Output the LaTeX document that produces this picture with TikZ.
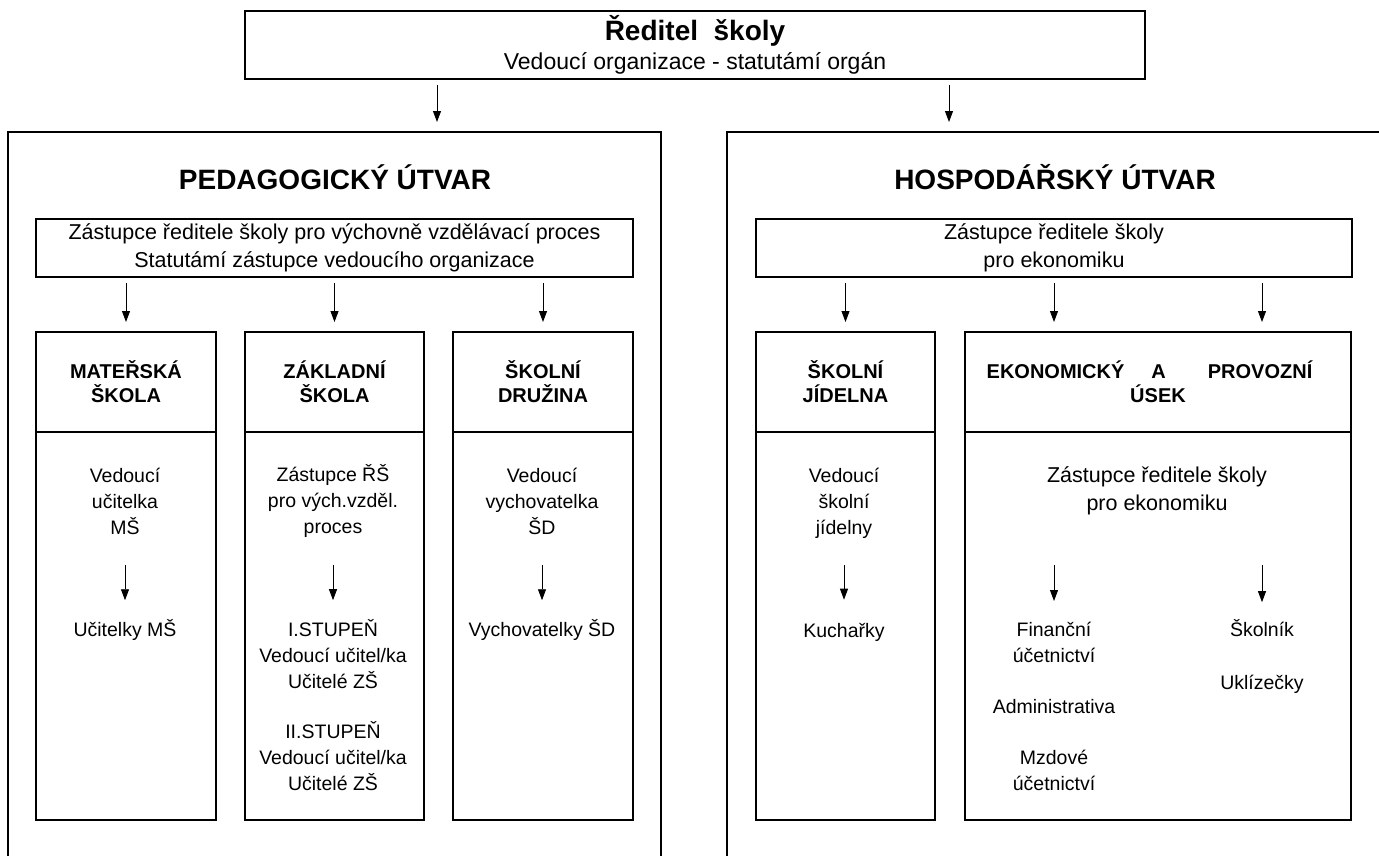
\documentclass[tikz,border=0pt]{standalone}
\usepackage{fontspec}
\setmainfont{Liberation Sans}
\usetikzlibrary{arrows.meta}

\begin{document}
\begin{tikzpicture}[x=1pt, y=-1pt,
    box/.style={draw, line width=1.7pt, inner sep=0pt, outer sep=0pt},
    arr/.style={-{Triangle[length=11pt, width=8pt]}, line width=0.9pt},
    boxarr/.style={arr, shorten <=6pt, shorten >=10pt},
    title/.style={font=\fontsize{28}{34}\selectfont\bfseries, inner sep=0pt},
    deputy/.style={font=\fontsize{21.5}{28}\selectfont, align=center, inner sep=0pt},
    sub/.style={font=\fontsize{20}{24}\selectfont\bfseries, align=center},
    txt/.style={font=\fontsize{19.5}{26}\selectfont, align=center, inner sep=0pt}]
    \clip (0,0) rectangle (1379,855);

    % Director
    \node[box, minimum width=900pt, minimum height=68pt] (dir) at (695,45) {};
    \node[title] (dirname) at (695,31) {Ředitel\ \ školy};
    \node[font=\fontsize{23}{28}\selectfont, inner sep=0pt] (dirrole) at (695,63) {Vedoucí organizace - statutámí orgán};

    % Pedagogical unit
    \node[box, anchor=north west, minimum width=653pt, minimum height=800pt] (ped) at (8,132) {};
    \node[title] (pedname) at (335,177) {PEDAGOGICKÝ ÚTVAR};
    \node[box, deputy, minimum width=597pt, minimum height=58pt] (peddep) at (334.5,248) {Zástupce ředitele školy pro výchovně vzdělávací proces\\Statutámí zástupce vedoucího organizace};

    % Economic unit
    \node[box, anchor=north west, minimum width=800pt, minimum height=800pt] (hosp) at (727,132) {};
    \node[title] (hospname) at (1055,177) {HOSPODÁŘSKÝ ÚTVAR};
    \node[box, deputy, minimum width=596pt, minimum height=58pt] (hospdep) at (1054,248) {Zástupce ředitele školy\\pro ekonomiku};

    \coordinate (a1) at (437,0);
    \coordinate (a2) at (949,0);
    \draw[boxarr] (dir.south -| a1) -- (ped.north -| a1);
    \draw[boxarr] (dir.south -| a2) -- (hosp.north -| a2);

    % Sections
    \node[box, sub, minimum width=180pt, minimum height=100pt] (ms) at (126,382) {MATEŘSKÁ\\ŠKOLA};
    \node[box, anchor=north, minimum width=180pt, minimum height=388pt] (msbody) at (ms.south) {};
    \node[box, sub, minimum width=179pt, minimum height=100pt] (zs) at (334.5,382) {ZÁKLADNÍ\\ŠKOLA};
    \node[box, anchor=north, minimum width=179pt, minimum height=388pt] (zsbody) at (zs.south) {};
    \node[box, sub, minimum width=180pt, minimum height=100pt] (sd) at (543,382) {ŠKOLNÍ\\DRUŽINA};
    \node[box, anchor=north, minimum width=180pt, minimum height=388pt] (sdbody) at (sd.south) {};
    \node[box, sub, minimum width=179pt, minimum height=100pt] (sj) at (845.5,382) {ŠKOLNÍ\\JÍDELNA};
    \node[box, anchor=north, minimum width=179pt, minimum height=388pt] (sjbody) at (sj.south) {};
    \node[box, sub, minimum width=386pt, minimum height=100pt] (ek) at (1158,382) {EKONOMICKÝ\hspace{27pt}A\hspace{42pt}PROVOZNÍ\hspace*{17pt}\\ÚSEK};
    \node[box, anchor=north, minimum width=386pt, minimum height=388pt] (ekbody) at (ek.south) {};

    % Materska skola
    \node[txt] (msboss) at (125,501) {Vedoucí\\učitelka\\MŠ};
    \node[txt] (msstaff) at (125,630) {Učitelky MŠ};
    \draw[arr, shorten <=31pt, shorten >=19pt] (msboss) -- (msstaff);

    % Zakladni skola
    \node[txt] (zsboss) at (333,501) {Zástupce ŘŠ\\pro vých.vzděl.\\proces};
    \node[txt] (zsone) at (333,654) {I.STUPEŇ\\Vedoucí učitel/ka\\Učitelé ZŠ};
    \node[txt] (zstwo) at (333,756) {II.STUPEŇ\\Vedoucí učitel/ka\\Učitelé ZŠ};
    \draw[arr, shorten <=27pt, shorten >=19pt] (zsboss) -- (zsone);

    % Skolni druzina
    \node[txt] (sdboss) at (542,501) {Vedoucí\\vychovatelka\\ŠD};
    \node[txt] (sdstaff) at (542,630) {Vychovatelky ŠD};
    \draw[arr, shorten <=31pt, shorten >=19pt] (sdboss) -- (sdstaff);

    % Skolni jidelna
    \node[txt] (sjboss) at (844,503) {Vedoucí\\školní\\jídelny};
    \node[txt] (sjstaff) at (844,632) {Kuchařky};
    \draw[arr, shorten <=27pt, shorten >=23pt] (sjboss) -- (sjstaff);

    % Ekonomicky a provozni usek
    \node[deputy] (ekboss) at (1157,491) {Zástupce ředitele školy\\pro ekonomiku};
    \node[txt] (fin) at (1054,642.5) {Finanční\\účetnictví};
    \node[txt] (adm) at (1054,707) {Administrativa};
    \node[txt] (mzd) at (1054,770.5) {Mzdové\\účetnictví};
    \node[txt] (skol) at (1262,628) {Školník};
    \node[txt] (ukl) at (1262,684) {Uklízečky};
    \draw[arr, shorten <=50pt, shorten >=21pt] (ekboss.south -| fin) -- (fin.north);
    \draw[arr, shorten <=50pt, shorten >=17pt] (ekboss.south -| skol) -- (skol.north);

    % Arrows to sections
    \draw[boxarr] (peddep.south -| ms) -- (ms.north);
    \draw[boxarr] (peddep.south -| zs) -- (zs.north);
    \draw[boxarr] (peddep.south -| sd) -- (sd.north);
    \draw[boxarr] (hospdep.south -| sj) -- (sj.north);
    \draw[boxarr] (hospdep.south -| fin) -- (ek.north -| fin);
    \draw[boxarr] (hospdep.south -| skol) -- (ek.north -| skol);
\end{tikzpicture}
\end{document}
